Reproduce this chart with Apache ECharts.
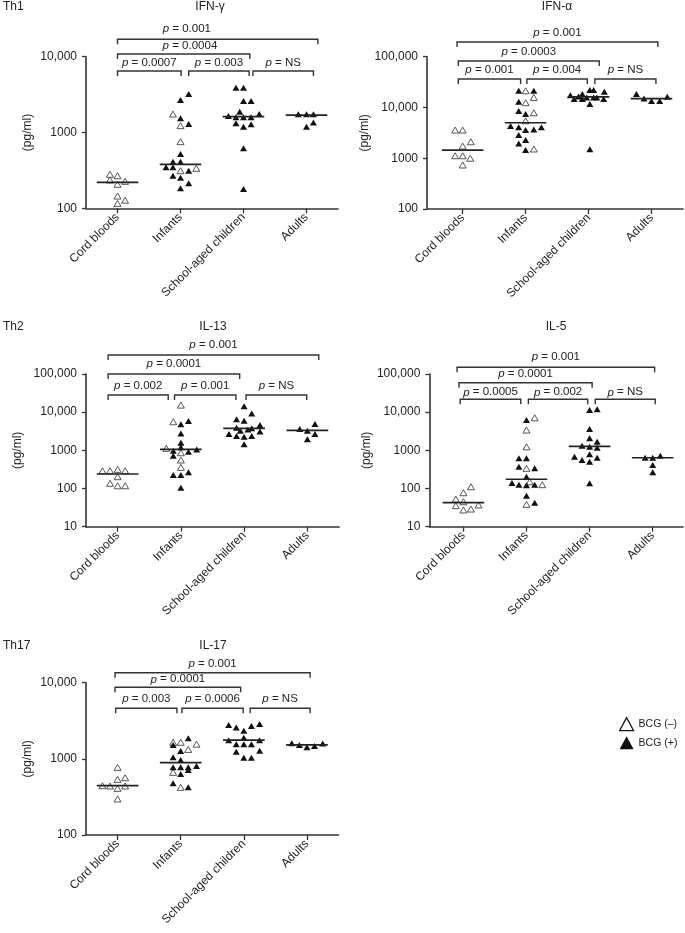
<!DOCTYPE html>
<html>
<head>
<meta charset="utf-8">
<script src="https://cdn.jsdelivr.net/npm/echarts@6/dist/echarts.min.js"></script>
<style>
html,body{margin:0;padding:0;background:#fff;}
#chart{width:685px;height:933px;}
</style>
</head>
<body>
<div id="chart"></div>
<script>
// ---------------- DATA ----------------
const categories = ['Cord bloods', 'Infants', 'School-aged children', 'Adults'];
const comparisons = [[0, 1], [1, 2], [2, 3], [0, 2], [0, 3]];
const comparisonLevel = [0, 0, 0, 1, 2];

// points: [category position (index + jitter), value in pg/ml]
const ifngOpen = [[-0.12,281],[0,269],[-0.12,236],[0,207],[0.12,227],[0,145],[0.12,128],[0,116],
  [0.88,1750],[1,1230],[1,757],[1,313],[1.25,337]];
const ifngFilled = [[1.13,3220],[1,2680],[1,1540],[1.13,1290],[1,520],[0.88,412],[1,412],[0.77,347],[0.88,347],[1.13,313],[0.88,269],[1,253],[1.13,214],[1,184],
  [1.88,3900],[2,3900],[2,2600],[2.12,2600],[1.94,1880],[1.76,1650],[1.88,1590],[2,1590],[2.12,1590],[2.25,1750],[1.88,1320],[2,1190],[2.12,1280],[2,619],[2,180],
  [2.87,1740],[3,1740],[3.11,1740],[3.11,1360],[3,1190]];
const ifngMedians = [220, 380, 1620, 1700];
const ifngP = ['0.0007', '0.003', 'NS', '0.0004', '0.001'];

const ifnaOpen = [[-0.12,3590],[0,3590],[0.13,2110],[0,1740],[-0.12,1120],[0,1120],[0.12,1000],[0,735],
  [1,21300],[1,12400],[1.13,15800],[1.13,7870],[1,5470],[1.13,1520]];
const ifnaFilled = [[0.89,21300],[1.13,21300],[0.89,12900],[0.89,8500],[1,7400],[0.76,4300],[0.89,4060],[1,3590],[1.13,3700],[1.25,4060],[0.89,2860],[0.89,1960],[1,2280],[1,1450],
  [1.71,17500],[1.9,18400],[2.02,22000],[2.08,22000],[2.25,20400],[1.77,14600],[1.9,14600],[1.97,15800],[2.08,15800],[2.13,15800],[2.24,14600],[2.02,11700],[2.02,1500],[1.84,16500],
  [2.76,18400],[2.88,15100],[3,13400],[3.13,13400],[3.25,16250]];
const ifnaMedians = [1450, 5000, 16200, 15000];
const ifnaP = ['0.001', '0.004', 'NS', '0.0003', '0.001'];

const il13Open = [[-0.24,292],[-0.12,292],[0,318],[0.12,292],[0,204],[-0.12,137],[0,118],[0.12,118],
  [1,15300],[0.88,5610],[0.77,1130],[1,865],[1,557],[1,359]];
const il13Filled = [[1,4800],[1.12,5850],[1,2770],[1,1580],[0.88,980],[1,1200],[1.12,920],[1.25,1060],[0.88,720],[0.88,225],[1,225],[1.12,265],[1,105],
  [2,14400],[2.12,9290],[1.88,6480],[2,5960],[1.88,3900],[1.94,3260],[2.12,3770],[2.25,4590],[1.76,2670],[1.88,2370],[2,2270],[2.12,2370],[2.25,3100],[2,1440],[2.06,3500],
  [3.12,4890],[2.88,3610],[3,3260],[3.12,2670],[3,1940]];
const il13Medians = [240, 1060, 3770, 3320];
const il13P = ['0.002', '0.001', 'NS', '0.0001', '0.001'];

const il5Open = [[0.12,111],[0,77.6],[-0.12,53],[0,45],[-0.12,35.5],[0,27.4],[0.12,29],[0.24,37],
  [1.13,7130],[1,3400],[1,1240],[1,338],[1.05,150],[1.25,126],[1,38.5]];
const il5Filled = [[1,6210],[0.88,618],[1,618],[0.88,372],[1.13,338],[1,204],[0.77,139],[0.88,126],[1,121],[1.13,126],[1,65],[1.13,42.5],
  [2,11350],[2.12,12000],[2,3610],[2,2060],[2.12,1680],[1.88,1320],[2,1250],[2.12,1170],[2,785],[1.76,680],[1.88,557],[2,504],[2.12,640],[2,137],
  [2.88,640],[3,640],[3.12,722],[3,412],[3,265]];
const il5Medians = [42.5, 175, 1270, 640];
const il5P = ['0.0005', '0.002', 'NS', '0.0001', '0.001'];

const il17Open = [[0,773],[0,538],[0.12,565],[-0.24,444],[-0.12,440],[0,410],[0.12,440],[0,297],
  [0.88,1650],[1,1650],[1.25,1560],[1.12,1330],[0.88,665],[1,423]];
const il17Filled = [[1.12,1860],[0.88,1520],[1,1270],[0.88,1050],[1,965],[0.88,773],[1,773],[1.12,773],[1.25,805],[1,632],[1.12,713],[0.88,477],[1.12,423],
  [1.76,2780],[1.88,2590],[2,2340],[2.12,2690],[2.25,2860],[1.76,1760],[2,1890],[2.25,1760],[1.88,1550],[2,1550],[2.12,1550],[1.88,1240],[2.25,1280],[2,1030],[2.12,1030],
  [2.76,1600],[2.88,1520],[3,1420],[3.12,1470],[3.25,1590]];
const il17Medians = [444, 890, 1760, 1530];
const il17P = ['0.003', '0.0006', 'NS', '0.0001', '0.001'];

const panels = [
  {title: 'IFN-γ', group: 'Th1', open: ifngOpen, filled: ifngFilled, med: ifngMedians, p: ifngP, yMin: 100, yMax: 10000},
  {title: 'IFN-α', group: '', open: ifnaOpen, filled: ifnaFilled, med: ifnaMedians, p: ifnaP, yMin: 100, yMax: 100000},
  {title: 'IL-13', group: 'Th2', open: il13Open, filled: il13Filled, med: il13Medians, p: il13P, yMin: 10, yMax: 100000},
  {title: 'IL-5', group: '', open: il5Open, filled: il5Filled, med: il5Medians, p: il5P, yMin: 10, yMax: 100000},
  {title: 'IL-17', group: 'Th17', open: il17Open, filled: il17Filled, med: il17Medians, p: il17P, yMin: 100, yMax: 10000}
];

// ---------------- LAYOUT / STYLE ----------------
const FONT = "'Liberation Sans', Arial, Helvetica, sans-serif";
const INK = '#222';
const AXIS = '#333';
const layout = [
  {left: 86, top: 56.7, width: 252, height: 151.6, xMin: -0.5, xMax: 3.5, nameGap: 52,
   levels: [14.3, -2.7, -17.4], textGap: [8.5, 8.5, 10.5],
   ends: [[0, 1.01], [1.13, 2.09], [2.15, 3.11], [0, 2.1], [0, 3.18]], labelX: [null, null, null, 1.15, 1.1],
   titleX: 210, titleY: 7},
  {left: 427, top: 56.7, width: 256, height: 152.3, xMin: -0.567, xMax: 3.5, nameGap: 53,
   levels: [22.3, 4.3, -14.7], textGap: [9, 9, 9],
   ends: [[-0.07, 0.92], [1.02, 1.98], [2.1, 3.07], [-0.07, 2.17], [-0.09, 3.1]], labelX: [null, null, null, null, null],
   titleX: 557, titleY: 7},
  {left: 86, top: 374, width: 253, height: 152.7, xMin: -0.5, xMax: 3.5, nameGap: 62,
   levels: [21, 0, -19], textGap: [9, 10.5, 10],
   ends: [[-0.15, 0.8], [0.9, 1.87], [2.03, 2.99], [-0.15, 1.93], [-0.15, 3.18]], labelX: [null, null, null, null, null],
   titleX: 213, titleY: 327},
  {left: 429.3, top: 374, width: 253.7, height: 152.7, xMin: -0.54, xMax: 3.48, nameGap: 52,
   levels: [25.3, 8.7, -6.7], textGap: [7, 8.5, 10.5],
   ends: [[-0.05, 0.91], [1.03, 1.97], [2.09, 3.04], [-0.07, 2.04], [-0.1, 3.03]], labelX: [null, null, null, null, null],
   titleX: 556, titleY: 327},
  {left: 86, top: 682.7, width: 252.5, height: 152.3, xMin: -0.5, xMax: 3.5, nameGap: 52,
   levels: [25.6, 4.6, -10], textGap: [9.3, 8, 8.7],
   ends: [[-0.03, 0.94], [1.02, 1.99], [2.1, 3.05], [-0.04, 1.95], [-0.04, 3.05]], labelX: [null, null, null, null, null],
   titleX: 213, titleY: 646}
];

function fmtY(v) {
  const r = Math.round(v);
  return r >= 10000 ? r.toLocaleString('en-US') : String(r);
}

const grids = [], xAxes = [], yAxes = [], series = [], graphics = [];

panels.forEach((P, pi) => {
  const L = layout[pi];
  grids.push({left: L.left, top: L.top, width: L.width, height: L.height, containLabel: false});
  xAxes.push({
    type: 'value', gridIndex: pi, min: L.xMin, max: L.xMax,
    splitLine: {show: false},
    axisLine: {show: true, onZero: false, lineStyle: {color: AXIS, width: 1.6}},
    axisTick: {show: true, customValues: [0, 1, 2, 3], length: 5, lineStyle: {color: AXIS, width: 1.3}},
    axisLabel: {show: true, customValues: [0, 1, 2, 3], rotate: 45, margin: 7,
      formatter: v => categories[Math.round(v)] || '',
      fontFamily: FONT, fontSize: 12, color: INK}
  });
  yAxes.push({
    type: 'log', logBase: 10, gridIndex: pi, min: P.yMin, max: P.yMax,
    name: '(pg/ml)', nameLocation: 'middle', nameGap: L.nameGap, nameRotate: 90,
    nameTextStyle: {fontFamily: FONT, fontSize: 12, color: INK},
    splitLine: {show: false},
    axisLine: {show: true, onZero: false, lineStyle: {color: AXIS, width: 1.6}},
    axisTick: {show: true, length: 4, lineStyle: {color: AXIS, width: 1.3}},
    minorTick: {show: false},
    axisLabel: {formatter: fmtY, fontFamily: FONT, fontSize: 12, color: INK, margin: 9}
  });

  series.push({
    name: 'BCG (–)', type: 'scatter', xAxisIndex: pi, yAxisIndex: pi,
    symbol: 'triangle', symbolSize: [7, 6], data: P.open, z: 3,
    itemStyle: {color: '#fff', borderColor: '#444', borderWidth: 0.9, opacity: 1},
    silent: true
  });
  series.push({
    name: 'BCG (+)', type: 'scatter', xAxisIndex: pi, yAxisIndex: pi,
    symbol: 'triangle', symbolSize: [7, 6], data: P.filled, z: 3,
    itemStyle: {color: '#111', opacity: 1},
    silent: true
  });
  // median lines
  series.push({
    type: 'custom', xAxisIndex: pi, yAxisIndex: pi, z: 4, silent: true, clip: false,
    data: P.med.map((m, i) => [i, m]),
    encode: {x: 0, y: 1},
    renderItem: function (params, api) {
      const i = api.value(0), m = api.value(1);
      const a = api.coord([i - 0.33, m]), b = api.coord([i + 0.33, m]);
      return {type: 'line', shape: {x1: a[0], y1: a[1], x2: b[0], y2: b[1]},
        style: {stroke: '#222', lineWidth: 1.7}};
    }
  });
  // significance brackets
  series.push({
    type: 'custom', xAxisIndex: pi, yAxisIndex: pi, z: 5, silent: true, clip: false,
    data: comparisons.map((c, k) => [L.ends[k][0], L.ends[k][1], P.yMin]),
    encode: {x: [0, 1], y: 2},
    renderItem: function (params, api) {
      const k = params.dataIndex;
      const x1 = api.coord([api.value(0), P.yMin])[0];
      const x2 = api.coord([api.value(1), P.yMin])[0];
      const lvl = comparisonLevel[k];
      const y = params.coordSys.y + L.levels[lvl];
      const lx = L.labelX[k] != null ? api.coord([L.labelX[k], P.yMin])[0] : (x1 + x2) / 2;
      return {type: 'group', children: [
        {type: 'polyline', shape: {points: [[x1, y + 5], [x1, y], [x2, y], [x2, y + 5]]},
          style: {stroke: '#333', lineWidth: 1.4, fill: null}},
        {type: 'text', x: lx, y: y - L.textGap[lvl],
          style: {text: '{i|p} = ' + P.p[k], align: 'center', verticalAlign: 'middle',
            fontFamily: FONT, fontSize: 11.5, fill: INK,
            rich: {i: {fontStyle: 'italic', fontFamily: FONT, fontSize: 11.5, fill: INK}}}}
      ]};
    }
  });

  graphics.push({type: 'text', x: L.titleX, y: L.titleY,
    style: {text: P.title, fontFamily: FONT, fontSize: 12, fill: INK, align: 'center', verticalAlign: 'middle'}});
  if (P.group) {
    graphics.push({type: 'text', x: 3, y: L.titleY,
      style: {text: P.group, fontFamily: FONT, fontSize: 12, fill: INK, align: 'left', verticalAlign: 'middle'}});
  }
});

const chart = echarts.init(document.getElementById('chart'), null, {renderer: 'canvas'});
chart.setOption({
  backgroundColor: '#fff',
  animation: false,
  grid: grids,
  xAxis: xAxes,
  yAxis: yAxes,
  series: series,
  graphic: graphics,
  legend: {
    orient: 'vertical', left: 614, top: 712, itemGap: 5, itemWidth: 14, itemHeight: 13,
    selectedMode: false,
    textStyle: {fontFamily: FONT, fontSize: 10.5, color: INK},
    data: [
      {name: 'BCG (–)', icon: 'triangle', itemStyle: {color: '#fff', borderColor: '#111', borderWidth: 1.2}},
      {name: 'BCG (+)', icon: 'triangle', itemStyle: {color: '#111', borderWidth: 0}}
    ]
  }
});
</script>
</body>
</html>
